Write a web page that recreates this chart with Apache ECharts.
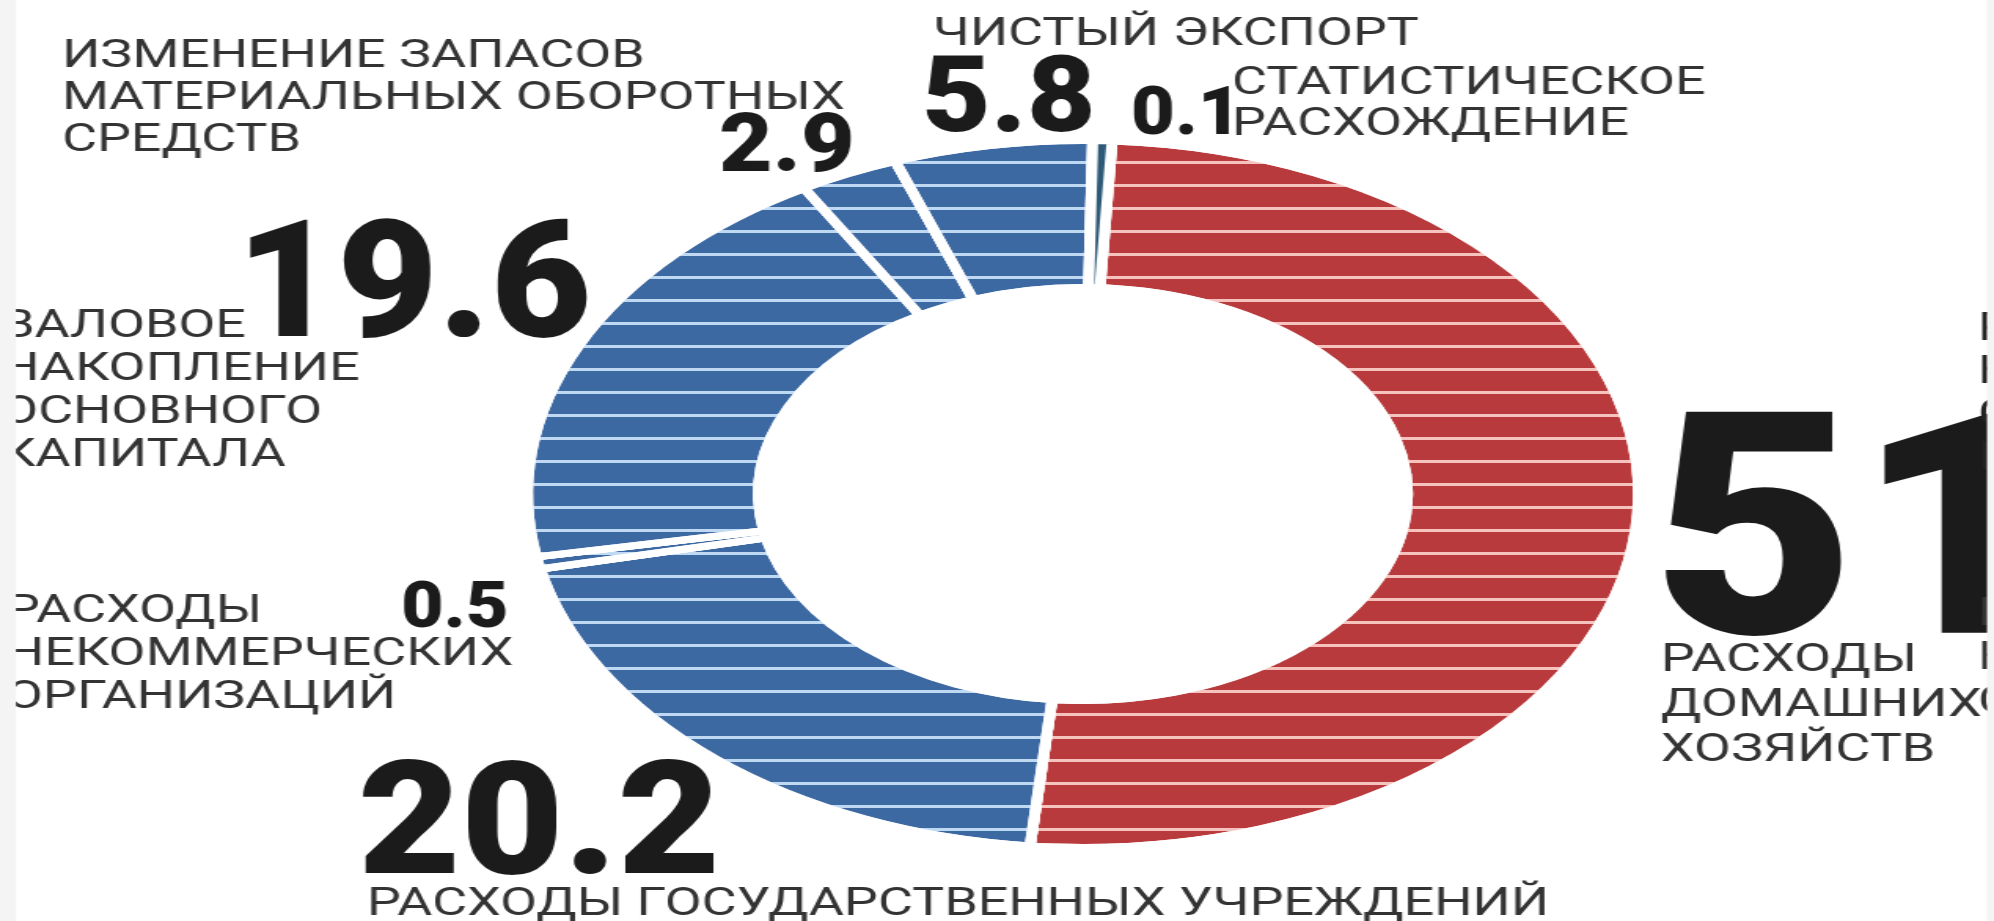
<!DOCTYPE html>
<html>
<head>
<meta charset="utf-8">
<script src="https://cdn.jsdelivr.net/npm/echarts@6/dist/echarts.min.js"></script>
<style>
  html, body { margin: 0; padding: 0; background: #fff; overflow: hidden; }
  /* the original graphic is stretched horizontally, so we draw it narrow and stretch it */
  #chart { width: 1269px; height: 921px; transform: scaleX(1.5713); transform-origin: 0 0; }
</style>
</head>
<body>
<div id="chart"></div>
<script>
// структура использования ВВП, %
const names = [
	"Расходы домашних хозяйств",
	"Расходы государственных учреждений",
	"Расходы некоммерческих организаций",
	"Валовое накопление основного капитала",
	"Изменение запасов материальных оборотных средств",
	"Чистый экспорт",
	"Статистическое расхождение"
];
const values = [51, 20.2, 0.5, 19.6, 2.9, 5.8, 0.1];
const labelLines = [
	["РАСХОДЫ", "ДОМАШНИХ", "ХОЗЯЙСТВ"],
	["РАСХОДЫ ГОСУДАРСТВЕННЫХ УЧРЕЖДЕНИЙ"],
	["РАСХОДЫ", "НЕКОММЕРЧЕСКИХ", "ОРГАНИЗАЦИЙ"],
	["ВАЛОВОЕ", "НАКОПЛЕНИЕ", "ОСНОВНОГО", "КАПИТАЛА"],
	["ИЗМЕНЕНИЕ ЗАПАСОВ", "МАТЕРИАЛЬНЫХ ОБОРОТНЫХ", "СРЕДСТВ"],
	["ЧИСТЫЙ ЭКСПОРТ"],
	["СТАТИСТИЧЕСКОЕ", "РАСХОЖДЕНИЕ"]
];
// текст, обрезанный правым краем
const cutLines = [["РАСХОДЫ", "НА", "СОБСТВЕННЫЕ", "НУЖДЫ"], ["РАСХОДЫ", "НА", "С"]];

const colors = ["#b83a3c", "#3d69a3", "#3d69a3", "#3d69a3", "#3d69a3", "#3d69a3", "#2e5a78"];
const stripes = ["#f5c2be", "#bfd9f3", "#bfd9f3", "#bfd9f3", "#bfd9f3", "#bfd9f3", null];

const S = 1.5713;
function px(x) { return x / S; } // picture x -> chart x

// [left, center y, font size, scaleX] for the big numbers
const numPos = [
	[1652, 524, 311, 0.72],
	[358, 818, 157, 0.72],
	[401, 604, 65, 0.72],
	[236, 279, 163, 0.68],
	[719, 142, 82, 0.72],
	[922, 94, 105, 0.72],
	[1131, 111, 67, 0.72]
];
// [left, first line center y, line height] for the names
const namePos = [
	[1661, 661, 45],
	[367, 905, 0],
	[6, 612, 43],
	[1, 327, 43],
	[62, 57, 42],
	[933, 35, 0],
	[1232, 84, 41.5]
];
const cutPos = [[1978, 330, 43], [1978, 615, 44]];

var myChart = echarts.init(document.getElementById("chart"));

function nameText(lines, p, color) {
	var lh = p[2] || 40;
	return {
		type: "text",
		x: px(p[0]),
		y: p[1] - lh / 2,
		scaleX: 0.9,
		z: 10,
		style: {
			text: lines.join("\n"),
			fontFamily: "Roboto",
			fontSize: 38,
			lineHeight: lh,
			fill: color,
			align: "left", textAlign: "left",
			verticalAlign: "top", textVerticalAlign: "top"
		}
	};
}

var elements = [];
values.forEach(function (v, i) {
	var p = numPos[i];
	elements.push({
		type: "text",
		x: px(p[0]),
		y: p[1] + p[2] * 0.1,
		scaleX: p[3],
		z: 10,
		style: {
			text: String(v),
			fontFamily: "Roboto",
			fontWeight: 900,
			fontSize: p[2],
			fill: "#1b1b1b",
			align: "left", textAlign: "left",
			verticalAlign: "middle", textVerticalAlign: "middle"
		}
	});
	elements.push(nameText(labelLines[i], namePos[i], "#333"));
});
cutLines.forEach(function (l, i) {
	elements.push(nameText(l, cutPos[i], i == 0 ? "#222" : "#333"));
});
// светлые поля по краям
elements.push({ type: "rect", z: 20, shape: { x: 0, y: 0, width: px(16), height: 921 }, style: { fill: "#f4f4f4" } });
elements.push({ type: "rect", z: 20, shape: { x: px(1987), y: 0, width: px(10), height: 921 }, style: { fill: "#f4f4f4" } });

var option = {
	backgroundColor: "#fff",
	animation: false,
	graphic: { elements: elements },
	series: [{
		type: "pie",
		center: [px(1083), 494],
		radius: [206.5, 353.5],
		startAngle: 87,
		clockwise: true,
		minAngle: 2,
		silent: true,
		label: { show: false },
		labelLine: { show: false },
		itemStyle: { borderColor: "#fff", borderWidth: 7 },
		data: names.map(function (n, i) {
			var item = { name: n, value: values[i], itemStyle: { color: colors[i] } };
			if (stripes[i]) {
				item.itemStyle.decal = {
					symbol: "rect",
					symbolSize: 1,
					color: stripes[i],
					dashArrayX: [1, 0],
					dashArrayY: [3, 20],
					rotation: 0
				};
			}
			return item;
		})
	}]
};
myChart.setOption(option);
</script>
</body>
</html>
